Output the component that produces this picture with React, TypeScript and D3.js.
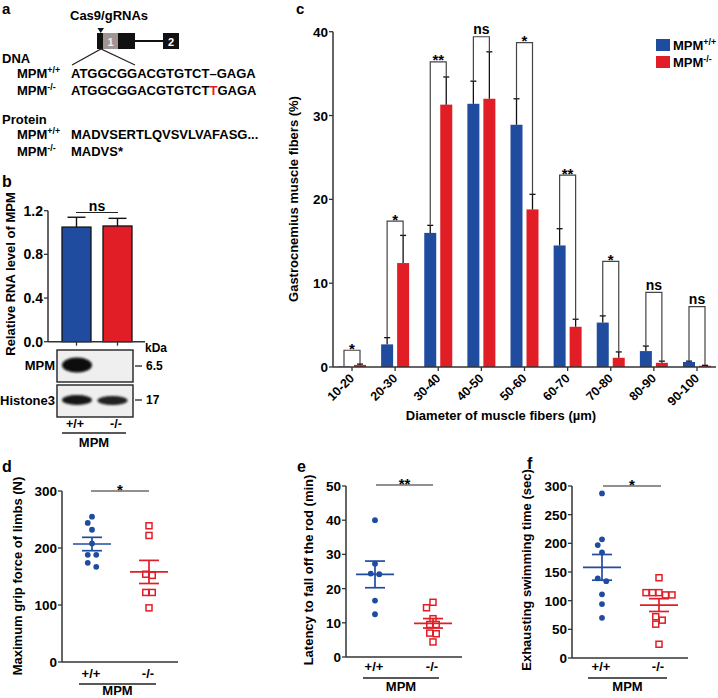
import React from 'react';
import * as d3 from 'd3';

const FONT = '"Liberation Sans", Arial, Helvetica, sans-serif';
const BLUE = '#204ca0';
const RED = '#e11e26';
const AXIS = '#333';

// ---------- Panel b data ----------
const rnaGroups = ['+/+', '-/-'];
const rnaMeans = [1.05, 1.06];
const rnaErr = [0.09, 0.07];
const rnaTicks = [0, 0.4, 0.8, 1.2];

// ---------- Panel c data ----------
const diamCats = ['10-20', '20-30', '30-40', '40-50', '50-60', '60-70', '70-80', '80-90', '90-100'];
const wtFibers = [0.05, 2.7, 16.0, 31.4, 28.9, 14.5, 5.3, 1.9, 0.6];
const wtFibersErr = [0.0, 0.8, 0.9, 2.7, 3.1, 2.0, 0.8, 0.6, 0.1];
const koFibers = [0.25, 12.4, 31.3, 32.0, 18.8, 4.8, 1.1, 0.5, 0.15];
const koFibersErr = [0.1, 3.3, 3.3, 5.6, 1.8, 0.9, 0.7, 0.2, 0.05];
const fiberSig = ['*', '*', '**', 'ns', '*', '**', '*', 'ns', 'ns'];
const fiberSigLevel = [2.0, 17.4, 36.4, 39.4, 38.7, 22.9, 12.6, 8.9, 7.2];
const fiberTicks = [0, 10, 20, 30, 40];

// ---------- Panel d data ----------
const gripWT = [255, 244, 232, 208, 188, 188, 174, 167];
const gripKO = [239, 222, 154, 152, 122, 122, 95];
const gripTicks = [0, 100, 200, 300];

// ---------- Panel e data ----------
const rodWT = [40, 27.3, 24.2, 24.4, 16.5, 12.5];
const rodKO = [16.0, 14.4, 11.2, 9.5, 9.5, 7.0, 6.8, 4.4];
const rodTicks = [0, 10, 20, 30, 40, 50];

// ---------- Panel f data ----------
const swimWT = [287, 207, 197, 184, 139, 134, 111, 94, 70];
const swimKO = [140, 114, 114, 114, 110, 110, 72, 66, 59, 24];
const swimTicks = [0, 50, 100, 150, 200, 250, 300];

function Sup({ base, sup, x, y, size = 13 }: { base: string; sup: string; x: number; y: number; size?: number }) {
  return (
    <text x={x} y={y} fontSize={size}>
      {base}
      <tspan fontSize={size * 0.68} dy={-size * 0.4}>{sup}</tspan>
    </text>
  );
}

function PanelA() {
  return (
    <g>
      <text x={2} y={14} fontSize={15}>a</text>
      <text x={70} y={20} fontSize={13}>Cas9/gRNAs</text>
      <path d="M97.5,28 L104,28 L100.7,33 Z" fill="#111" />
      <rect x={97} y={33} width={6} height={16} fill="#111" />
      <rect x={103} y={33} width={15} height={16} fill="#a39494" />
      <text x={110.5} y={45.5} fontSize={11} fill="#eee" textAnchor="middle">1</text>
      <rect x={118} y={33} width={17} height={16} fill="#111" />
      <line x1={135} x2={163} y1={41} y2={41} stroke="#111" strokeWidth={2} />
      <rect x={163} y={33} width={16} height={16} fill="#111" />
      <text x={171} y={45.5} fontSize={11} fill="#fff" textAnchor="middle">2</text>
      <path d="M72,65 L101,49 L135,65" fill="none" stroke="#222" strokeWidth={1.2} />
      <text x={2} y={63} fontSize={13}>DNA</text>
      <Sup base="MPM" sup="+/+" x={17} y={78} />
      <text x={71} y={78} fontSize={13}>ATGGCGGACGTGTCT–GAGA</text>
      <Sup base="MPM" sup="-/-" x={17} y={95} />
      <text x={71} y={95} fontSize={13}>
        ATGGCGGACGTGTCT<tspan fill={RED}>T</tspan>GAGA
      </text>
      <text x={2} y={124} fontSize={13}>Protein</text>
      <Sup base="MPM" sup="+/+" x={17} y={139} />
      <text x={71} y={139} fontSize={13}>MADVSERTLQVSVLVAFASG...</text>
      <Sup base="MPM" sup="-/-" x={17} y={156} />
      <text x={71} y={156} fontSize={13}>MADVS*</text>
    </g>
  );
}

function PanelB() {
  const axisX = 48;
  const y = d3.scaleLinear().domain([0, 1.2]).range([341.7, 210.7]);
  const x = d3.scalePoint<string>().domain(rnaGroups).range([76.5, 117.5]);
  const colors = [BLUE, RED];
  const bw = 29;
  return (
    <g>
      <text x={2} y={187} fontSize={16}>b</text>
      {rnaGroups.map((g, i) => {
        const cx = x(g)!;
        const top = y(rnaMeans[i]);
        const et = y(rnaMeans[i] + rnaErr[i]);
        return (
          <g key={g}>
            <rect x={cx - bw / 2} y={top} width={bw} height={y(0) - top} fill={colors[i]} stroke="#111" strokeWidth={1.3} />
            <line x1={cx} x2={cx} y1={top} y2={et} stroke="#111" strokeWidth={1.4} />
            <line x1={cx - 9} x2={cx + 9} y1={et} y2={et} stroke="#111" strokeWidth={1.4} />
            <line x1={cx} x2={cx} y1={y(0)} y2={y(0) + 4} stroke={AXIS} strokeWidth={1.3} />
          </g>
        );
      })}
      <line x1={axisX} x2={axisX} y1={y(0)} y2={y(1.2)} stroke={AXIS} strokeWidth={1.5} />
      <line x1={axisX} x2={145} y1={y(0)} y2={y(0)} stroke={AXIS} strokeWidth={1.5} />
      {rnaTicks.map((t) => (
        <g key={t}>
          <line x1={axisX - 4} x2={axisX} y1={y(t)} y2={y(t)} stroke={AXIS} strokeWidth={1.3} />
          <text x={axisX - 5} y={y(t) + 5} fontSize={14} textAnchor="end">{t.toFixed(1)}</text>
        </g>
      ))}
      <line x1={76} x2={118} y1={212.5} y2={212.5} stroke="#222" strokeWidth={1.2} />
      <text x={97} y={210.5} fontSize={14} textAnchor="middle">ns</text>
      <text transform="translate(15,274) rotate(-90)" fontSize={13} textAnchor="middle">Relative RNA level of MPM</text>
      {/* Western blot */}
      <defs>
        <filter id="blur1" x="-30%" y="-60%" width="160%" height="220%">
          <feGaussianBlur stdDeviation="1.1" />
        </filter>
      </defs>
      <rect x={57} y={350} width={76} height={32} fill="#efefef" stroke="#222" strokeWidth={1.4} />
      <ellipse cx={77} cy={365} rx={15} ry={7.5} fill="#080808" filter="url(#blur1)" />
      <rect x={57} y={385} width={76} height={32} fill="#efefef" stroke="#222" strokeWidth={1.4} />
      <ellipse cx={77} cy={400} rx={15} ry={5} fill="#151515" filter="url(#blur1)" />
      <ellipse cx={112.5} cy={400.5} rx={15} ry={4.5} fill="#202020" filter="url(#blur1)" />
      <text x={145} y={352} fontSize={12}>kDa</text>
      <line x1={135} x2={142} y1={366} y2={366} stroke="#222" strokeWidth={1.3} />
      <text x={146} y={370} fontSize={12}>6.5</text>
      <line x1={135} x2={142} y1={400} y2={400} stroke="#222" strokeWidth={1.3} />
      <text x={146} y={404} fontSize={12}>17</text>
      <text x={55} y={370} fontSize={13} textAnchor="end">MPM</text>
      <text x={55} y={405} fontSize={13} textAnchor="end">Histone3</text>
      <text x={75} y={428} fontSize={12.5} textAnchor="middle">+/+</text>
      <text x={116} y={428} fontSize={12.5} textAnchor="middle">-/-</text>
      <line x1={62} x2={126} y1={433} y2={433} stroke="#222" strokeWidth={1.3} />
      <text x={94} y={447} fontSize={13} textAnchor="middle">MPM</text>
    </g>
  );
}

function PanelC() {
  const axisX = 333;
  const y = d3.scaleLinear().domain([0, 40]).range([367, 31.7]);
  const x = d3.scalePoint<string>().domain(diamCats).range([352, 697]);
  const bw = 12;
  const capW = 3;
  return (
    <g>
      <text x={296} y={14} fontSize={15}>c</text>
      {diamCats.map((c, i) => {
        const cx = x(c)!;
        const bc = cx - 8;
        const rc = cx + 8;
        const bt = y(wtFibers[i]);
        const rt = y(koFibers[i]);
        const be = y(wtFibers[i] + wtFibersErr[i]);
        const re = y(koFibers[i] + koFibersErr[i]);
        const sy = y(fiberSigLevel[i]);
        const lab = fiberSig[i];
        return (
          <g key={c}>
            <rect x={bc - bw / 2} y={bt} width={bw} height={y(0) - bt} fill={BLUE} />
            <rect x={rc - bw / 2} y={rt} width={bw} height={y(0) - rt} fill={RED} />
            {wtFibersErr[i] > 0 && (
              <g stroke="#111" strokeWidth={1.3}>
                <line x1={bc} x2={bc} y1={bt} y2={be} />
                <line x1={bc - capW} x2={bc + capW} y1={be} y2={be} />
              </g>
            )}
            <g stroke="#111" strokeWidth={1.3}>
              <line x1={rc} x2={rc} y1={rt} y2={re} />
              <line x1={rc - capW} x2={rc + capW} y1={re} y2={re} />
            </g>
            <path d={`M${bc},${Math.min(be, y(0)) - 0.5} L${bc},${sy} L${rc},${sy} L${rc},${re}`} fill="none" stroke="#444" strokeWidth={1.2} />
            <text x={cx} y={lab === 'ns' ? sy - 2.5 : sy + 3.5} fontSize={lab === 'ns' ? 14 : 15} textAnchor="middle">{lab}</text>
            <line x1={cx} x2={cx} y1={y(0)} y2={y(0) + 4} stroke={AXIS} strokeWidth={1.3} />
            <text transform={`translate(${cx + 3},379) rotate(-45)`} fontSize={12.5} textAnchor="end">{c}</text>
          </g>
        );
      })}
      <line x1={axisX} x2={axisX} y1={y(0)} y2={y(40)} stroke={AXIS} strokeWidth={1.5} />
      <line x1={axisX} x2={716} y1={y(0)} y2={y(0)} stroke={AXIS} strokeWidth={1.5} />
      {fiberTicks.map((t) => (
        <g key={t}>
          <line x1={axisX - 4} x2={axisX} y1={y(t)} y2={y(t)} stroke={AXIS} strokeWidth={1.3} />
          <text x={axisX - 5} y={y(t) + 5} fontSize={13.5} textAnchor="end">{t}</text>
        </g>
      ))}
      <text transform="translate(298,199) rotate(-90)" fontSize={13} textAnchor="middle">Gastrocnemius muscle fibers (%)</text>
      <text x={501} y={420} fontSize={13} textAnchor="middle">Diameter of muscle fibers (µm)</text>
      <rect x={656} y={39} width={14} height={12} fill={BLUE} />
      <rect x={656} y={56} width={14} height={12} fill={RED} />
      <Sup base="MPM" sup="+/+" x={673} y={50} />
      <Sup base="MPM" sup="-/-" x={673} y={67} />
    </g>
  );
}

type Pt = { v: number; py: number; x: number };
function swarm(values: number[], y: (v: number) => number, cx: number, step: number, minDist: number): Pt[] {
  const pts: Pt[] = values.map((v) => ({ v, py: y(v), x: cx }));
  const order = pts.slice().sort((a, b) => a.py - b.py);
  const rows: Pt[][] = [];
  for (const p of order) {
    const last = rows[rows.length - 1];
    if (last && Math.abs(p.py - last[0].py) < 5) last.push(p);
    else rows.push([p]);
  }
  const placed: { x: number; y: number }[] = [];
  for (const row of rows) {
    if (row.length > 1) {
      row.forEach((p, i) => {
        p.x = cx + (i - (row.length - 1) / 2) * step;
        placed.push({ x: p.x, y: p.py });
      });
    } else {
      const p = row[0];
      for (const k of [0, -0.5, 0.5, -1, 1, -1.5, 1.5]) {
        const xx = cx + k * step;
        if (placed.every((q) => Math.hypot(q.x - xx, q.y - p.py) >= minDist)) {
          p.x = xx;
          break;
        }
      }
      placed.push({ x: p.x, y: p.py });
    }
  }
  return pts;
}

type ScatterProps = {
  letter: string;
  letterX: number;
  letterY: number;
  wt: number[];
  ko: number[];
  ticks: number[];
  axisX: number;
  yTop: number;
  y0: number;
  xEnd: number;
  centers: [number, number];
  sig: string;
  sigY: number;
  sigX: [number, number];
  title: string;
  titleX: number;
  titleY: number;
  labY: number;
  underY: number;
  underX: [number, number];
  mpmY: number;
};

function Scatter(p: ScatterProps) {
  const maxT = p.ticks[p.ticks.length - 1];
  const y = d3.scaleLinear().domain([0, maxT]).range([p.y0, p.yTop]);
  const x = d3.scalePoint<string>().domain(['+/+', '-/-']).range(p.centers);
  const groups = [
    { key: '+/+', vals: p.wt, color: BLUE, circle: true },
    { key: '-/-', vals: p.ko, color: RED, circle: false },
  ];
  return (
    <g>
      <text x={p.letterX} y={p.letterY} fontSize={16}>{p.letter}</text>
      {groups.map((g) => {
        const cx = x(g.key)!;
        const pts = g.circle ? swarm(g.vals, y, cx, 8.5, 7) : swarm(g.vals, y, cx, 6.5, 7);
        const m = d3.mean(g.vals)!;
        const sem = d3.deviation(g.vals)! / Math.sqrt(g.vals.length);
        return (
          <g key={g.key}>
            {pts.map((q, i) =>
              g.circle ? (
                <circle key={i} cx={q.x} cy={q.py} r={2.9} fill={g.color} />
              ) : (
                <rect key={i} x={q.x - 3} y={q.py - 3} width={6} height={6} fill="#fff" stroke={g.color} strokeWidth={1.5} />
              )
            )}
            <g stroke={g.color} strokeWidth={1.7}>
              <line x1={cx - 19} x2={cx + 19} y1={y(m)} y2={y(m)} />
              <line x1={cx} x2={cx} y1={y(m - sem)} y2={y(m + sem)} />
              <line x1={cx - 10} x2={cx + 10} y1={y(m - sem)} y2={y(m - sem)} />
              <line x1={cx - 10} x2={cx + 10} y1={y(m + sem)} y2={y(m + sem)} />
            </g>
            <text x={cx - 1} y={p.labY} fontSize={13} textAnchor="middle">{g.key}</text>
          </g>
        );
      })}
      <line x1={p.axisX} x2={p.axisX} y1={p.y0} y2={p.yTop} stroke={AXIS} strokeWidth={1.5} />
      <line x1={p.axisX} x2={p.xEnd} y1={p.y0} y2={p.y0} stroke={AXIS} strokeWidth={1.5} />
      {p.ticks.map((t) => (
        <g key={t}>
          <line x1={p.axisX - 4} x2={p.axisX} y1={y(t)} y2={y(t)} stroke={AXIS} strokeWidth={1.3} />
          <text x={p.axisX - 5} y={y(t) + 5} fontSize={13.5} textAnchor="end">{t}</text>
        </g>
      ))}
      <line x1={p.sigX[0]} x2={p.sigX[1]} y1={p.sigY} y2={p.sigY} stroke="#222" strokeWidth={1.2} />
      <text x={(p.sigX[0] + p.sigX[1]) / 2} y={p.sigY + 3.5} fontSize={15} textAnchor="middle">{p.sig}</text>
      <text transform={`translate(${p.titleX},${p.titleY}) rotate(-90)`} fontSize={13} textAnchor="middle">{p.title}</text>
      <line x1={p.underX[0]} x2={p.underX[1]} y1={p.underY} y2={p.underY} stroke="#222" strokeWidth={1.3} />
      <text x={(p.underX[0] + p.underX[1]) / 2} y={p.mpmY} fontSize={13} textAnchor="middle">MPM</text>
    </g>
  );
}

export default function App() {
  return (
    <svg
      width={718}
      height={698}
      viewBox="0 0 718 698"
      style={{ position: 'absolute', left: 0, top: 0, background: '#fff' }}
      fontFamily={FONT}
      fontWeight="bold"
    >
      <rect width={718} height={698} fill="#fff" />
      <PanelA />
      <PanelB />
      <PanelC />
      <Scatter
        letter="d" letterX={2} letterY={472}
        wt={gripWT} ko={gripKO} ticks={gripTicks}
        axisX={62} yTop={491} y0={662} xEnd={178} centers={[92, 149]}
        sig="*" sigY={491} sigX={[91, 149]}
        title="Maximum grip force of limbs (N)" titleX={21.5} titleY={576}
        labY={678} underY={684} underX={[79, 156]} mpmY={695}
      />
      <Scatter
        letter="e" letterX={297} letterY={472}
        wt={rodWT} ko={rodKO} ticks={rodTicks}
        axisX={346} yTop={486} y0={657} xEnd={462} centers={[375, 433]}
        sig="**" sigY={485} sigX={[376, 433]}
        title="Latency to fall off the rod (min)" titleX={312.5} titleY={570}
        labY={671} underY={678} underX={[363, 439]} mpmY={691}
      />
      <Scatter
        letter="f" letterX={527} letterY={469}
        wt={swimWT} ko={swimKO} ticks={swimTicks}
        axisX={572} yTop={486} y0={658} xEnd={688} centers={[602, 659]}
        sig="*" sigY={486} sigX={[603, 661]}
        title="Exhausting swimming time (sec)" titleX={531} titleY={570}
        labY={671} underY={678} underX={[588, 667]} mpmY={691}
      />
    </svg>
  );
}
